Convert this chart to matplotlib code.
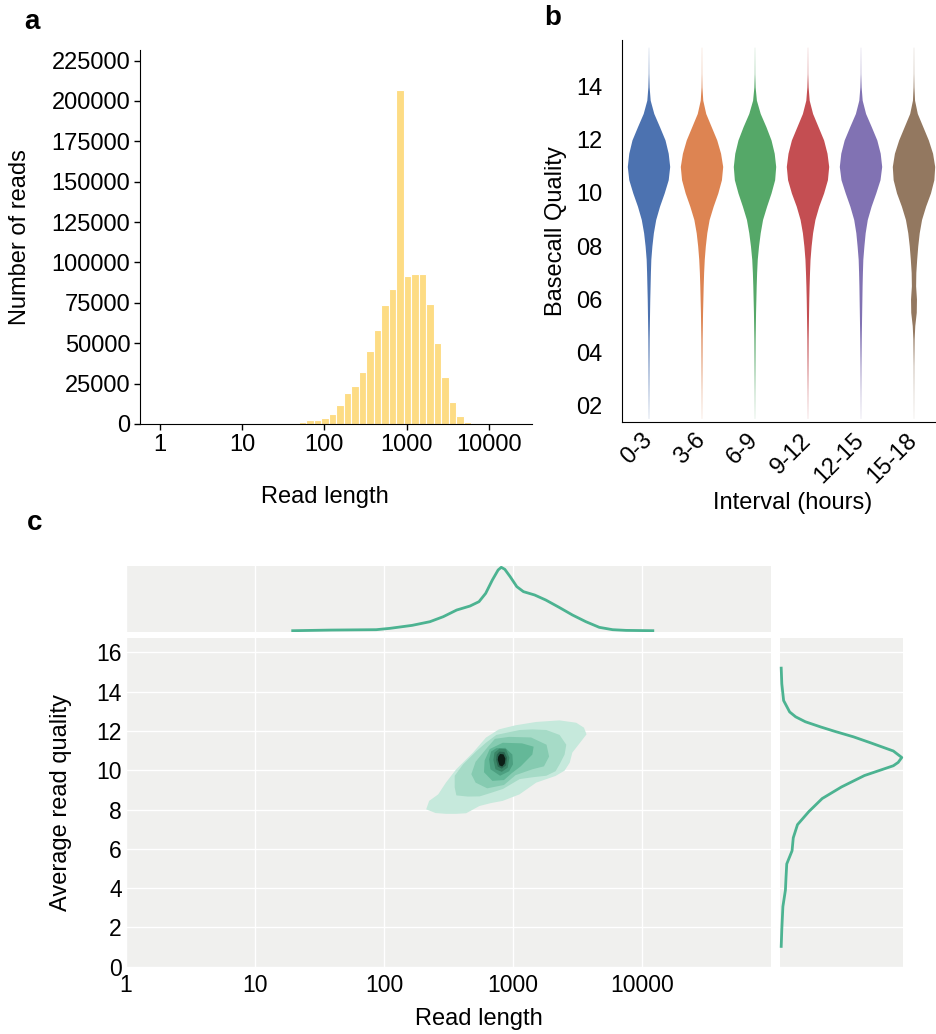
import numpy as np
import matplotlib
matplotlib.use("Agg")
import matplotlib.pyplot as plt

plt.rcParams['font.family'] = ['Liberation Sans', 'DejaVu Sans']

# ---------- a: read length histogram ----------
hist_counts = [1000, 2500, 2500, 3500, 6200, 11800, 19000, 23700, 32400, 45200,
               58200, 73400, 83700, 207000, 91800, 92800, 92800, 74500, 50300,
               28900, 13800, 5200, 1200]
hist_edges = np.logspace(1.69, 3.787, len(hist_counts) + 1)
length_ticks = [1, 10, 100, 1000, 10000]
count_ticks = list(range(0, 225001, 25000))

# ---------- b: basecall quality per time interval ----------
intervals = ['0-3', '3-6', '6-9', '9-12', '12-15', '15-18']
violin_colors = ['#4c72b0', '#dd8452', '#55a868', '#c44e52', '#8172b3', '#937860']
quality_levels = [1.5, 2.5, 3.5, 4.5, 5.0, 5.5, 6.0, 6.5, 7.0, 7.5, 8.0, 8.5, 9.0,
                  9.5, 10.0, 10.5, 11.0, 11.5, 12.0, 12.5, 13.0, 13.5, 14.0, 14.5, 15.5]
violin_density = {
    '0-3':   [0.004, 0.012, 0.02, 0.03, 0.04, 0.05, 0.06, 0.075, 0.09, 0.11, 0.16, 0.23, 0.34,
              0.52, 0.74, 0.93, 1.0, 0.93, 0.78, 0.52, 0.25, 0.08, 0.03, 0.012, 0.003],
    '3-6':   [0.003, 0.01, 0.02, 0.03, 0.04, 0.05, 0.065, 0.08, 0.1, 0.13, 0.18, 0.25, 0.36,
              0.55, 0.77, 0.94, 1.0, 0.9, 0.72, 0.46, 0.2, 0.06, 0.02, 0.008, 0.003],
    '6-9':   [0.003, 0.01, 0.02, 0.03, 0.04, 0.05, 0.065, 0.08, 0.1, 0.13, 0.19, 0.27, 0.38,
              0.57, 0.78, 0.95, 1.0, 0.93, 0.78, 0.54, 0.27, 0.09, 0.03, 0.01, 0.003],
    '9-12':  [0.003, 0.01, 0.02, 0.03, 0.04, 0.05, 0.06, 0.075, 0.095, 0.12, 0.17, 0.24, 0.35,
              0.53, 0.76, 0.94, 1.0, 0.92, 0.76, 0.5, 0.24, 0.08, 0.03, 0.01, 0.003],
    '12-15': [0.003, 0.01, 0.02, 0.035, 0.045, 0.055, 0.065, 0.075, 0.09, 0.11, 0.16, 0.22, 0.32,
              0.5, 0.72, 0.92, 1.0, 0.93, 0.77, 0.51, 0.24, 0.08, 0.03, 0.01, 0.003],
    '15-18': [0.002, 0.006, 0.012, 0.03, 0.06, 0.13, 0.14, 0.1, 0.11, 0.15, 0.2, 0.27, 0.38,
              0.57, 0.8, 0.96, 1.0, 0.9, 0.7, 0.44, 0.18, 0.05, 0.02, 0.008, 0.003],
}
quality_ticks = [2, 4, 6, 8, 10, 12, 14]

# ---------- c: read length vs average quality (kde) ----------
# filled density levels, outlines: log10(read length), quality
kde_levels = [
    ([2.327, 2.40, 2.482, 2.56, 2.637, 2.74, 2.83, 2.92, 3.05, 3.18, 3.33, 3.40, 3.44, 3.46,
      3.51, 3.57, 3.55, 3.49, 3.36, 3.18, 3.02, 2.89, 2.79, 2.69, 2.56, 2.48, 2.42, 2.35],
     [8.01, 7.82, 7.78, 7.78, 7.81, 8.18, 8.33, 8.44, 8.77, 9.37, 9.71, 9.98, 10.39, 10.9,
      11.32, 11.83, 12.17, 12.42, 12.54, 12.46, 12.29, 12.08, 11.66, 10.9, 10.05, 9.37, 8.77, 8.44]),
    ([2.548, 2.548, 2.561, 2.65, 2.742, 2.83, 2.923, 3.052, 3.16, 3.258, 3.33, 3.361, 3.40,
      3.413, 3.361, 3.258, 3.15, 3.052, 2.871, 2.79, 2.716, 2.613],
     [9.72, 9.13, 8.72, 8.66, 8.67, 8.85, 9.05, 9.55, 9.65, 9.72, 9.95, 10.3, 10.8,
      11.3, 11.8, 12.05, 12.08, 12.05, 11.8, 11.4, 10.97, 10.3]),
    ([2.677, 2.71, 2.8, 2.93, 3.02, 3.15, 3.24, 3.28, 3.26, 3.14, 2.97, 2.86, 2.8, 2.71],
     [9.8, 9.37, 9.08, 9.25, 9.75, 10.05, 10.2, 10.7, 11.3, 11.67, 11.7, 11.6, 11.15, 10.43]),
    ([2.78, 2.775, 2.84, 2.93, 2.99, 3.06, 3.15, 3.16, 3.07, 2.92, 2.82],
     [10.5, 9.9, 9.46, 9.5, 9.85, 10.2, 10.8, 11.2, 11.37, 11.4, 11.08]),
    ([2.815, 2.825, 2.9, 2.97, 3.0, 2.995, 2.94, 2.87, 2.83],
     [10.55, 10.05, 9.72, 9.95, 10.3, 10.8, 11.14, 11.12, 10.95]),
    ([2.848, 2.864, 2.913, 2.959, 2.972, 2.946, 2.895, 2.856],
     [10.53, 10.05, 9.92, 10.13, 10.64, 11.07, 11.1, 10.9]),
    ([2.869, 2.882, 2.913, 2.946, 2.954, 2.933, 2.895, 2.874],
     [10.53, 10.19, 10.08, 10.25, 10.64, 10.93, 10.95, 10.8]),
    ([2.882, 2.895, 2.916, 2.936, 2.941, 2.926, 2.9, 2.885],
     [10.53, 10.25, 10.19, 10.34, 10.59, 10.81, 10.83, 10.69]),
]
kde_colors = ['#c6e9dc', '#a6dbc7', '#86cbb1', '#64b898', '#4c9f80', '#3a8567', '#2a6650', '#0c1e16']

# marginal densities
length_curve = [19.6, 39, 87, 111, 165, 227, 288, 366, 464, 545, 614, 692, 767, 811, 864,
                950, 1070, 1205, 1472, 1795, 2279, 2893, 3673, 4667, 5918, 7520, 12130]
length_density = [0, 0.01, 0.016, 0.037, 0.084, 0.142, 0.221, 0.326, 0.389, 0.458, 0.589,
                  0.8, 0.958, 1.0, 0.968, 0.853, 0.695, 0.616, 0.563, 0.484, 0.368, 0.247,
                  0.142, 0.053, 0.016, 0.005, 0]
quality_curve = [15.2, 14.4, 13.55, 12.97, 12.72, 12.47, 12.2, 11.97, 11.7, 11.4, 10.98,
                 10.65, 10.4, 10.23, 9.73, 9.15, 8.56, 7.9, 7.23, 6.56, 5.9, 5.23, 4.56,
                 3.9, 3.06, 1.9, 1.03]
quality_density = [0, 0.005, 0.02, 0.07, 0.12, 0.2, 0.33, 0.45, 0.6, 0.74, 0.93,
                   1.0, 0.97, 0.93, 0.69, 0.5, 0.34, 0.23, 0.135, 0.1, 0.09, 0.046, 0.04,
                   0.035, 0.014, 0.005, 0]
avg_quality_ticks = list(range(0, 17, 2))

W, H = 936, 1034


def px_axes(left, top, right, bottom):
    return [left / W, 1 - bottom / H, (right - left) / W, (bottom - top) / H]


fig = plt.figure(figsize=(W / 100, H / 100), dpi=100)

# ---- panel a ----
ax_a = fig.add_axes(px_axes(140, 50, 532, 424))
ax_a.bar(hist_edges[:-1], hist_counts, width=np.diff(hist_edges), align='edge',
         color='#fddc84', edgecolor='white', linewidth=0.8)
ax_a.set_xscale('log')
ax_a.set_xlim(0.577, 33400)
ax_a.set_ylim(0, 231500)
ax_a.set_xticks(length_ticks)
ax_a.set_xticklabels([str(t) for t in length_ticks])
ax_a.minorticks_off()
ax_a.set_yticks(count_ticks)
ax_a.set_yticklabels([str(t) for t in count_ticks])
for s in ['top', 'right']:
    ax_a.spines[s].set_visible(False)
ax_a.tick_params(labelsize=17, length=4, width=1, pad=3)
ax_a.set_xlabel('Read length', fontsize=17)
ax_a.xaxis.set_label_coords(0.472, -0.165)
ax_a.set_ylabel('Number of reads', fontsize=17)
ax_a.yaxis.set_label_coords(-0.278, 0.5)

# ---- panel b ----
ax_b = fig.add_axes(px_axes(622, 40, 940, 421.7))
q = np.array(quality_levels)
for i, (name, color) in enumerate(zip(intervals, violin_colors)):
    half = 0.4 * np.array(violin_density[name])
    ax_b.fill_betweenx(q, i - half, i + half, color=color, linewidth=0)
ax_b.set_xlim(-0.5, 5.5)
ax_b.set_ylim(1.375, 15.77)
ax_b.set_yticks(quality_ticks)
ax_b.set_yticklabels(['%02d' % t for t in quality_ticks])
ax_b.set_xticks(range(len(intervals)))
ax_b.set_xticklabels(intervals, rotation=45, ha='right', va='center', rotation_mode='anchor')
for s in ['top', 'right']:
    ax_b.spines[s].set_visible(False)
ax_b.tick_params(axis='y', labelsize=17, length=0, pad=14)
ax_b.tick_params(axis='x', labelsize=17, length=0, pad=11)
ax_b.set_xlabel('Interval (hours)', fontsize=17)
ax_b.xaxis.set_label_coords(0.538, -0.184)
ax_b.set_ylabel('Basecall Quality', fontsize=17)
ax_b.yaxis.set_label_coords(-0.173, 0.5)

# ---- panel c ----
bg = '#f0f0ee'
ax_c = fig.add_axes(px_axes(126, 637.7, 771, 968))
ax_c.set_facecolor(bg)
for (xs, ys), color in zip(kde_levels, kde_colors):
    ax_c.fill(10 ** np.array(xs), ys, color=color, linewidth=0)
ax_c.set_xscale('log')
ax_c.set_xlim(1, 1e5)
ax_c.set_ylim(-0.07, 16.75)
ax_c.set_xticks(length_ticks)
ax_c.set_xticklabels([str(t) for t in length_ticks])
ax_c.minorticks_off()
ax_c.set_yticks(avg_quality_ticks)
ax_c.grid(True, color='white', linewidth=1)
ax_c.set_axisbelow(True)
for s in ax_c.spines.values():
    s.set_visible(False)
ax_c.tick_params(labelsize=16.5, length=0)
ax_c.tick_params(axis='x', pad=4)
ax_c.tick_params(axis='y', pad=3)
ax_c.set_xlabel('Read length', fontsize=17)
ax_c.xaxis.set_label_coords(0.547, -0.121)
ax_c.set_ylabel('Average read quality', fontsize=17)
ax_c.yaxis.set_label_coords(-0.084, 0.5)

ax_t = fig.add_axes(px_axes(126, 566, 771, 632))
ax_t.set_facecolor(bg)
ax_t.plot(length_curve, length_density, color='#4cb391', linewidth=2)
ax_t.set_xscale('log')
ax_t.set_xlim(1, 1e5)
ax_t.set_ylim(-0.0205, 1.0205)
ax_t.set_xticks(length_ticks)
ax_t.minorticks_off()
ax_t.set_yticks([])
ax_t.grid(True, axis='x', color='white', linewidth=1)
ax_t.set_axisbelow(True)
ax_t.tick_params(labelbottom=False, length=0)
for s in ax_t.spines.values():
    s.set_visible(False)

ax_r = fig.add_axes(px_axes(780, 637.7, 903, 968))
ax_r.set_facecolor(bg)
ax_r.plot(quality_density, quality_curve, color='#4cb391', linewidth=2, clip_on=False)
ax_r.set_xlim(-0.01, 1.01)
ax_r.set_ylim(-0.07, 16.75)
ax_r.set_xticks([])
ax_r.set_yticks(avg_quality_ticks)
ax_r.grid(True, axis='y', color='white', linewidth=1)
ax_r.set_axisbelow(True)
ax_r.tick_params(labelleft=False, length=0)
for s in ax_r.spines.values():
    s.set_visible(False)

# panel letters
for letter, x, y in [('a', 32, 22), ('b', 553, 18), ('c', 35, 523)]:
    fig.text(x / W, 1 - y / H, letter, ha='center', va='center',
             fontsize=20, fontweight='bold')

fig.savefig('out.png', dpi=100)
